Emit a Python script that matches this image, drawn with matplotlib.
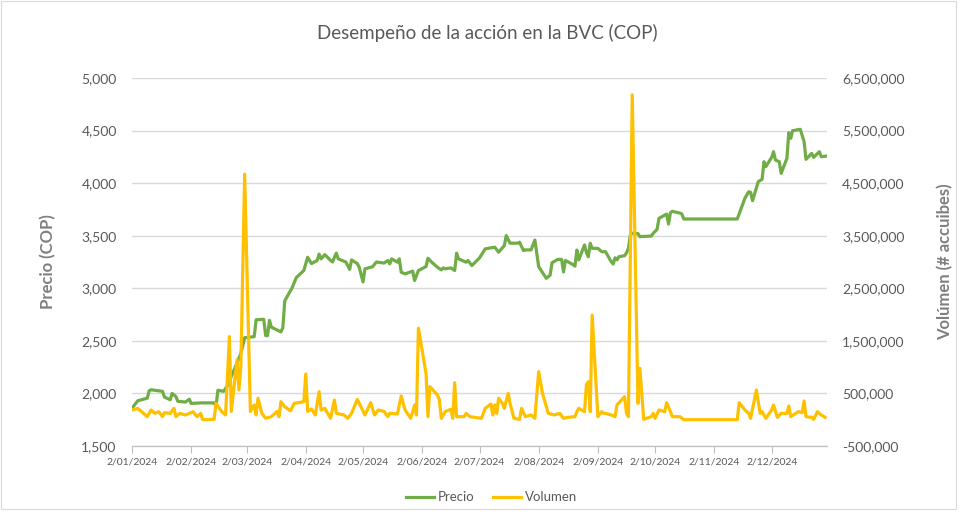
import numpy as np
import pandas as pd
import matplotlib
matplotlib.use("Agg")
import matplotlib.pyplot as plt
import matplotlib.dates as mdates
from matplotlib.ticker import FuncFormatter, FixedLocator
from matplotlib.patches import Rectangle

plt.rcParams["font.family"] = ["Lato", "DejaVu Sans"]

# precio de cierre (COP)
precio_fechas = [
    "2024-01-02", "2024-01-05", "2024-01-10", "2024-01-11", "2024-01-12",
    "2024-01-18", "2024-01-19", "2024-01-22", "2024-01-23", "2024-01-25",
    "2024-01-26", "2024-01-30", "2024-02-01", "2024-02-02", "2024-02-07",
    "2024-02-14", "2024-02-15", "2024-02-16", "2024-02-19", "2024-02-21",
    "2024-02-26", "2024-02-28", "2024-03-01", "2024-03-06", "2024-03-07",
    "2024-03-11", "2024-03-12", "2024-03-13", "2024-03-14", "2024-03-15",
    "2024-03-20", "2024-03-21", "2024-03-22", "2024-03-26", "2024-03-28",
    "2024-04-01", "2024-04-03", "2024-04-05", "2024-04-08", "2024-04-09",
    "2024-04-10", "2024-04-12", "2024-04-15", "2024-04-16", "2024-04-18",
    "2024-04-19", "2024-04-23", "2024-04-25", "2024-04-26", "2024-04-29",
    "2024-04-30", "2024-05-02", "2024-05-03", "2024-05-07", "2024-05-09",
    "2024-05-13", "2024-05-15", "2024-05-16", "2024-05-17", "2024-05-20",
    "2024-05-21", "2024-05-22", "2024-05-24", "2024-05-28", "2024-05-29",
    "2024-05-31", "2024-06-04", "2024-06-05", "2024-06-07", "2024-06-10",
    "2024-06-12", "2024-06-13", "2024-06-14", "2024-06-17", "2024-06-19",
    "2024-06-20", "2024-06-21", "2024-06-25", "2024-06-26", "2024-06-28",
    "2024-07-02", "2024-07-05", "2024-07-10", "2024-07-12", "2024-07-15",
    "2024-07-16", "2024-07-18", "2024-07-22", "2024-07-23", "2024-07-25",
    "2024-07-26", "2024-07-29", "2024-07-31", "2024-08-02", "2024-08-06",
    "2024-08-08", "2024-08-09", "2024-08-12", "2024-08-14", "2024-08-15",
    "2024-08-16", "2024-08-20", "2024-08-21", "2024-08-22", "2024-08-23",
    "2024-08-26", "2024-08-27", "2024-08-28", "2024-08-29", "2024-08-30",
    "2024-09-02", "2024-09-04", "2024-09-06", "2024-09-09", "2024-09-10",
    "2024-09-11", "2024-09-12", "2024-09-13", "2024-09-16", "2024-09-17",
    "2024-09-18", "2024-09-19", "2024-09-20", "2024-09-23", "2024-09-24",
    "2024-09-30", "2024-10-01", "2024-10-03", "2024-10-04", "2024-10-08",
    "2024-10-09", "2024-10-10", "2024-10-11", "2024-10-15", "2024-10-16",
    "2024-10-17", "2024-11-14", "2024-11-18", "2024-11-20", "2024-11-21",
    "2024-11-22", "2024-11-25", "2024-11-27", "2024-11-28", "2024-11-29",
    "2024-12-02", "2024-12-03", "2024-12-04", "2024-12-06", "2024-12-07",
    "2024-12-10", "2024-12-11", "2024-12-12", "2024-12-13", "2024-12-17",
    "2024-12-19", "2024-12-20", "2024-12-23", "2024-12-24", "2024-12-27",
    "2024-12-28", "2024-12-31",
]
precio = [
    1860, 1930, 1955, 2025, 2035,
    2020, 1965, 1940, 2000, 1970,
    1925, 1918, 1945, 1905, 1910,
    1910, 1880, 2030, 2020, 2075,
    2290, 2380, 2530, 2540, 2700,
    2705, 2550, 2550, 2695, 2630,
    2585, 2625, 2880, 3010, 3100,
    3170, 3295, 3235, 3265, 3325,
    3280, 3320, 3265, 3250, 3335,
    3280, 3250, 3180, 3270, 3235,
    3200, 3060, 3185, 3205, 3250,
    3240, 3264, 3232, 3280, 3248,
    3280, 3153, 3137, 3163, 3074,
    3169, 3207, 3286, 3248, 3200,
    3175, 3194, 3185, 3194, 3169,
    3334, 3280, 3248, 3264, 3216,
    3289, 3375, 3391, 3343, 3406,
    3501, 3429, 3429, 3438, 3359,
    3365, 3365, 3459, 3205, 3095,
    3125, 3243, 3275, 3275, 3155,
    3265, 3225, 3210, 3364, 3270,
    3412, 3340, 3300, 3428, 3380,
    3380, 3348, 3348, 3253, 3231,
    3290, 3270, 3300, 3310, 3338,
    3380, 3507, 3523, 3520, 3491,
    3497, 3523, 3560, 3665, 3706,
    3611, 3719, 3732, 3715, 3706,
    3659, 3659, 3856, 3918, 3912,
    3833, 4014, 4036, 4204, 4157,
    4245, 4299, 4220, 4204, 4093,
    4236, 4480, 4426, 4499, 4512,
    4395, 4226, 4283, 4245, 4299,
    4251, 4258,
]

# volumen negociado (# acciones)
volumen_fechas = [
    "2024-01-02", "2024-01-05", "2024-01-08", "2024-01-10", "2024-01-12",
    "2024-01-14", "2024-01-16", "2024-01-18", "2024-01-19", "2024-01-22",
    "2024-01-24", "2024-01-25", "2024-01-27", "2024-01-30", "2024-02-03",
    "2024-02-05", "2024-02-07", "2024-02-08", "2024-02-14", "2024-02-15",
    "2024-02-18", "2024-02-20", "2024-02-22", "2024-02-23", "2024-02-26",
    "2024-02-27", "2024-02-28", "2024-03-01", "2024-03-04", "2024-03-06",
    "2024-03-07", "2024-03-08", "2024-03-10", "2024-03-12", "2024-03-15",
    "2024-03-18", "2024-03-19", "2024-03-20", "2024-03-22", "2024-03-25",
    "2024-03-27", "2024-04-01", "2024-04-02", "2024-04-03", "2024-04-05",
    "2024-04-07", "2024-04-09", "2024-04-10", "2024-04-12", "2024-04-15",
    "2024-04-17", "2024-04-18", "2024-04-22", "2024-04-24", "2024-04-26",
    "2024-04-29", "2024-05-03", "2024-05-06", "2024-05-08", "2024-05-10",
    "2024-05-13", "2024-05-15", "2024-05-16", "2024-05-20", "2024-05-22",
    "2024-05-24", "2024-05-27", "2024-05-29", "2024-05-30", "2024-05-31",
    "2024-06-04", "2024-06-05", "2024-06-06", "2024-06-10", "2024-06-11",
    "2024-06-12", "2024-06-14", "2024-06-17", "2024-06-18", "2024-06-19",
    "2024-06-20", "2024-06-24", "2024-06-25", "2024-06-27", "2024-07-03",
    "2024-07-05", "2024-07-08", "2024-07-09", "2024-07-10", "2024-07-11",
    "2024-07-12", "2024-07-14", "2024-07-15", "2024-07-17", "2024-07-18",
    "2024-07-20", "2024-07-23", "2024-07-24", "2024-07-26", "2024-07-29",
    "2024-07-31", "2024-08-02", "2024-08-04", "2024-08-07", "2024-08-10",
    "2024-08-13", "2024-08-15", "2024-08-17", "2024-08-21", "2024-08-22",
    "2024-08-23", "2024-08-26", "2024-08-27", "2024-08-28", "2024-08-29",
    "2024-08-30", "2024-09-02", "2024-09-04", "2024-09-05", "2024-09-06",
    "2024-09-09", "2024-09-11", "2024-09-12", "2024-09-16", "2024-09-17",
    "2024-09-18", "2024-09-20", "2024-09-23", "2024-09-24", "2024-09-26",
    "2024-09-30", "2024-10-01", "2024-10-02", "2024-10-04", "2024-10-07",
    "2024-10-08", "2024-10-10", "2024-10-11", "2024-10-15", "2024-10-17",
    "2024-11-14", "2024-11-15", "2024-11-18", "2024-11-20", "2024-11-21",
    "2024-11-24", "2024-11-26", "2024-11-27", "2024-11-29", "2024-12-02",
    "2024-12-03", "2024-12-05", "2024-12-07", "2024-12-10", "2024-12-11",
    "2024-12-12", "2024-12-16", "2024-12-18", "2024-12-19", "2024-12-20",
    "2024-12-23", "2024-12-24", "2024-12-26", "2024-12-28", "2024-12-30",
]
volumen = [
    185000, 216000, 121000, 58000, 185000,
    121000, 153000, 58000, 134000, 121000,
    216000, 58000, 121000, 90000, 153000,
    58000, 121000, 0, 7000, 312000,
    153000, 90000, 1580000, 158000, 1140000,
    565000, 1000000, 4670000, 158000, 280000,
    90000, 407000, 122000, 27000, 58000,
    158000, 58000, 343000, 248000, 170000,
    312000, 343000, 870000, 158000, 202000,
    90000, 533000, 185000, 217000, 27000,
    375000, 122000, 90000, 27000, 122000,
    388000, 90000, 325000, 90000, 185000,
    158000, 58000, 122000, 110000, 451000,
    185000, 27000, 280000, 90000, 1740000,
    883000, 58000, 629000, 470000, 375000,
    26000, 153000, 198000, 26000, 705000,
    58000, 58000, 121000, 58000, 26000,
    216000, 299000, 90000, 280000, 121000,
    407000, 312000, 216000, 502000, 312000,
    26000, 7000, 216000, 58000, 90000,
    26000, 915000, 502000, 121000, 90000,
    121000, 26000, 45000, 58000, 153000,
    216000, 153000, 661000, 724000, 153000,
    1990000, 58000, 153000, 121000, 121000,
    90000, 58000, 280000, 439000, 121000,
    58000, 6180000, 312000, 978000, 7000,
    58000, 121000, 26000, 185000, 153000,
    324000, 153000, 58000, 58000, 0,
    0, 324000, 185000, 121000, 26000,
    565000, 121000, 153000, 26000, 185000,
    280000, 45000, 121000, 121000, 261000,
    58000, 153000, 134000, 356000, 58000,
    45000, 7000, 153000, 90000, 45000,
]

precio_ticks = [1500, 2000, 2500, 3000, 3500, 4000, 4500, 5000]
volumen_ticks = [-500000, 500000, 1500000, 2500000, 3500000, 4500000, 5500000, 6500000]
mes_ticks = pd.date_range("2024-01-01", "2024-12-01", freq="MS") + pd.Timedelta(days=1)

VERDE = "#70AD47"
AMARILLO = "#FFC000"
GRIS = "#595959"


def fecha_corta(x, pos):
    d = mdates.num2date(x)
    return f"{d.day}/{d.month:02d}/{d.year}"


fig = plt.figure(figsize=(9.64, 5.16), dpi=100)
fig.patches.append(Rectangle((0.001, 1 - 509 / 516), 955 / 964, 509 / 516 - 0.002,
                             transform=fig.transFigure, fill=False,
                             edgecolor="#D9D9D9", linewidth=0.8))

ax = fig.add_axes([132 / 964, 1 - 446 / 516, (827 - 132) / 964, (446 - 78) / 516])
ax2 = ax.twinx()

fp = pd.to_datetime(precio_fechas)
fv = pd.to_datetime(volumen_fechas)

l1, = ax.plot(fp, precio, color=VERDE, linewidth=2.3, solid_joinstyle="round", label="Precio")
l2, = ax2.plot(fv, volumen, color=AMARILLO, linewidth=2.3, solid_joinstyle="round", label="Volumen")

ax.set_xlim(pd.Timestamp("2024-01-02"), pd.Timestamp("2024-12-31"))
ax.set_ylim(1500, 5000)
ax2.set_ylim(-500000, 6500000)

ax.set_yticks(precio_ticks)
ax2.set_yticks(volumen_ticks)
ax.yaxis.set_major_formatter(FuncFormatter(lambda v, p: f"{int(v):,}"))
ax2.yaxis.set_major_formatter(FuncFormatter(lambda v, p: f"{int(v):,}"))

ax.xaxis.set_major_locator(FixedLocator(mdates.date2num(mes_ticks)))
ax.xaxis.set_major_formatter(FuncFormatter(fecha_corta))

ax.grid(axis="y", color="#D9D9D9", linewidth=1)
ax.set_axisbelow(True)

for a in (ax, ax2):
    for s in ("top", "left", "right"):
        a.spines[s].set_visible(False)
    a.spines["bottom"].set_color("#BFBFBF")

ax.tick_params(axis="y", length=0, labelsize=10, labelcolor=GRIS, pad=11)
ax2.tick_params(axis="y", length=0, labelsize=10, labelcolor=GRIS, pad=11)
ax.tick_params(axis="x", length=5, color="#BFBFBF", labelsize=7.5, labelcolor=GRIS, pad=3)

ax.set_ylabel("Precio (COP)", fontsize=12, color="#7F7F7F", fontweight="bold", labelpad=18)
ax2.set_ylabel("Volúmen (# accuibes)", fontsize=12, color="#7F7F7F", fontweight="bold",
               rotation=90, labelpad=23)

fig.text(0.505, 0.937, "Desempeño de la acción en la BVC (COP)", ha="center", va="center",
         fontsize=13.5, color=GRIS)

fig.legend(handles=[l1, l2], loc="center", bbox_to_anchor=(0.51, 0.036), ncol=2,
           frameon=False, fontsize=9.5, labelcolor=GRIS, handlelength=2.1,
           columnspacing=1.4, handletextpad=0.3)

plt.savefig("out.png", dpi=100)
plt.close()
